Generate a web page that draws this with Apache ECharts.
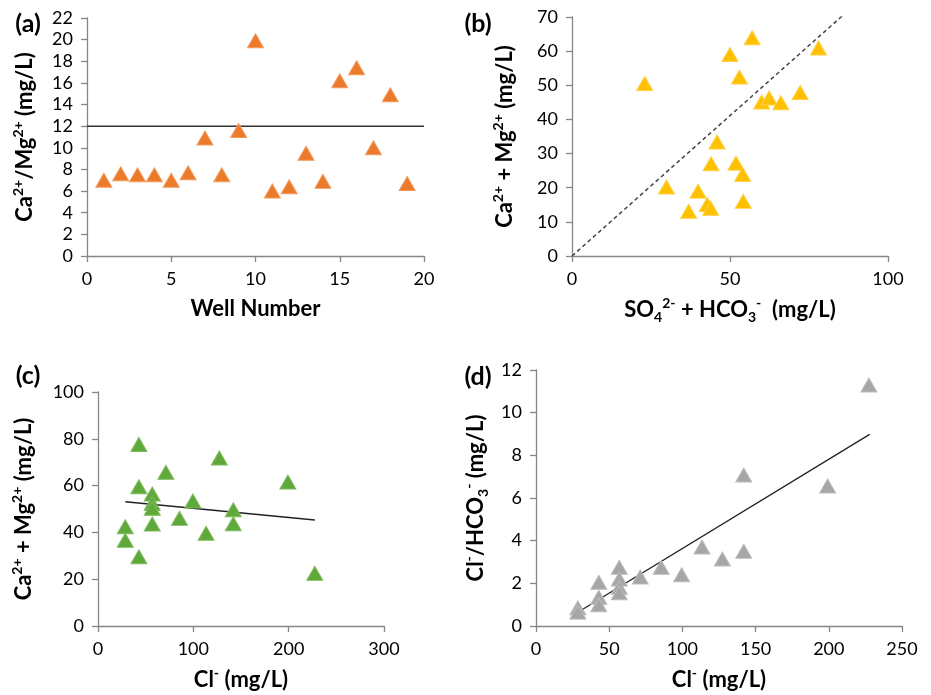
<!DOCTYPE html>
<html>
<head>
<meta charset="utf-8">
<script src="https://cdn.jsdelivr.net/npm/echarts@6/dist/echarts.min.js"></script>
<style>html,body{margin:0;padding:0;background:#fff;}#c{width:931px;height:695px;}</style>
</head>
<body>
<div id="c"></div>
<script>
// ---- Data ----
var wellNumbers = [1,2,3,4,5,6,7,8,9,10,11,12,13,14,15,16,17,18,19];
var caMgRatio = [7.0,7.6,7.5,7.5,7.0,7.7,10.9,7.5,11.6,19.9,6.0,6.4,9.5,6.9,16.2,17.4,10.0,14.9,6.7];
var ratioLimitX = [0, 20];
var ratioLimitY = [12, 12];

var so4Hco3 = [23.0,29.9,36.9,39.9,42.8,43.9,44.0,45.9,50.0,53.0,51.9,54.0,54.2,57.0,60.0,62.4,66.1,72.2,78.0];
var caMgSumB = [50.5,20.2,13.1,19.0,15.1,14.0,27.0,33.4,59.0,52.4,27.2,23.9,16.0,63.9,45.1,46.3,44.9,47.9,60.9];
var refLineX = [0, 86];
var refLineY = [0, 70.7];

var clValues = [28.6,28.6,42.9,42.9,42.9,56.9,56.9,56.9,56.9,71.2,85.5,99.5,113.4,127.3,141.9,141.9,199.2,227.4];
var caMgSumC = [42.4,36.6,77.6,59.5,29.6,56.4,52.4,50.3,43.6,65.7,46.0,53.4,39.6,71.8,49.7,43.7,61.5,22.5];
var trendCX = [28.6, 227.4];
var trendCY = [53.1, 45.3];

var clHco3 = [0.85,0.65,2.05,1.35,1.0,2.75,2.2,1.82,1.56,2.3,2.75,2.4,3.7,3.14,7.08,3.5,6.56,11.3];
var trendDX = [28.3, 227.9];
var trendDY = [0.63, 8.98];

// ---- Helpers ----
function pairs(xs, ys){ return xs.map(function(x,i){ return [x, ys[i]]; }); }
var FONT = 'Lato, "Open Sans", sans-serif';
var rich = {
  b: {fontSize: 22, fontWeight: 'bold', fontFamily: FONT, color: '#000', lineHeight: 28},
  s: {fontSize: 14, fontWeight: 'bold', fontFamily: FONT, color: '#000', verticalAlign: 'top', lineHeight: 15},
  u: {fontSize: 14, fontWeight: 'bold', fontFamily: FONT, color: '#000', verticalAlign: 'bottom', lineHeight: 15}
};
var axisColor = '#868686';
function axis(gridIndex, min, max, interval, name, gap, isY){
  return {
    type: 'value', gridIndex: gridIndex, min: min, max: max, interval: interval,
    name: name, nameLocation: 'middle', nameGap: gap, nameRotate: isY ? 90 : 0,
    nameTextStyle: {rich: rich},
    axisLine: {show: true, onZero: false, lineStyle: {color: axisColor, width: 1.3}},
    axisTick: {show: true, length: 6, lineStyle: {color: axisColor, width: 1.3}},
    splitLine: {show: false},
    axisLabel: {color: '#000', fontSize: 18, fontFamily: FONT, margin: 14}
  };
}
function tri(xi, yi, data, color, border){
  return {type: 'scatter', xAxisIndex: xi, yAxisIndex: yi, data: data,
    symbol: 'triangle', symbolSize: [16, 14],
    itemStyle: {color: color, borderColor: border, borderWidth: 1, opacity: 1},
    z: 3, animation: false};
}
function line(xi, yi, data, color, type, width){
  return {type: 'line', xAxisIndex: xi, yAxisIndex: yi, data: data, symbol: 'none',
    lineStyle: {color: color, type: type, width: width}, z: 2, animation: false, silent: true};
}

var supCa = '{b|Ca}{s|2+}{b| + Mg}{s|2+}{b| (mg/L)}';
var option = {
  backgroundColor: '#fff',
  animation: false,
  grid: [
    {left: 87, top: 18, width: 337, height: 238},
    {left: 572, top: 17, width: 316, height: 239},
    {left: 98, top: 392, width: 286, height: 234},
    {left: 536, top: 370, width: 366, height: 256}
  ],
  xAxis: [
    axis(0, 0, 20, 5, '{b|Well Number}', 39, false),
    axis(1, 0, 100, 50, '{b|SO}{u|4}{s|2-}{b| + HCO}{u|3}{s|-}{b|  (mg/L)}', 40, false),
    axis(2, 0, 300, 100, '{b|Cl}{s|-}{b| (mg/L)}', 40, false),
    axis(3, 0, 250, 50, '{b|Cl}{s|-}{b| (mg/L)}', 40, false)
  ],
  yAxis: [
    axis(0, 0, 22, 2, '{b|Ca}{s|2+}{b|/Mg}{s|2+}{b| (mg/L)}', 48, true),
    axis(1, 0, 70, 10, supCa, 53, true),
    axis(2, 0, 100, 20, supCa, 60, true),
    axis(3, 0, 12, 2, '{b|Cl}{s|-}{b|/HCO}{u|3}{s|-}{b| (mg/L)}', 46, true)
  ],
  series: [
    line(0, 0, pairs(ratioLimitX, ratioLimitY), '#333', 'solid', 1.5),
    tri(0, 0, pairs(wellNumbers, caMgRatio), '#EC7A2B', '#F29A5C'),
    line(1, 1, pairs(refLineX, refLineY), '#444', [4, 3], 1.5),
    tri(1, 1, pairs(so4Hco3, caMgSumB), '#FFC000', '#FFD040'),
    line(2, 2, pairs(trendCX, trendCY), '#222', 'solid', 1.3),
    tri(2, 2, pairs(clValues, caMgSumC), '#5FA83A', '#7DBA5E'),
    line(3, 3, pairs(trendDX, trendDY), '#222', 'solid', 1.3),
    tri(3, 3, pairs(clValues, clHco3), '#A6A6A6', '#BBBBBB')
  ],
  graphic: [
    {type: 'text', x: 28, y: 24, style: {text: '(a)', font: 'bold 25px ' + FONT, fill: '#000', textAlign: 'center', textVerticalAlign: 'middle'}},
    {type: 'text', x: 478, y: 24, style: {text: '(b)', font: 'bold 25px ' + FONT, fill: '#000', textAlign: 'center', textVerticalAlign: 'middle'}},
    {type: 'text', x: 28, y: 376, style: {text: '(c)', font: 'bold 25px ' + FONT, fill: '#000', textAlign: 'center', textVerticalAlign: 'middle'}},
    {type: 'text', x: 478, y: 377, style: {text: '(d)', font: 'bold 25px ' + FONT, fill: '#000', textAlign: 'center', textVerticalAlign: 'middle'}}
  ]
};
var chart = echarts.init(document.getElementById('c'), null, {renderer: 'canvas'});
chart.setOption(option);
</script>
</body>
</html>
